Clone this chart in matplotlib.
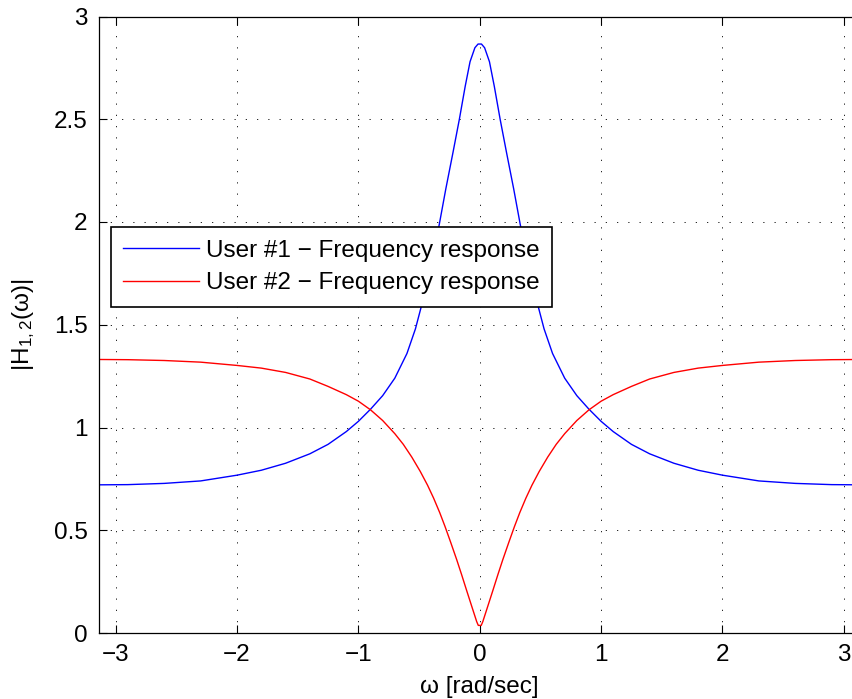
import matplotlib
matplotlib.use("Agg")
import matplotlib.pyplot as plt
import numpy as np

plt.rcParams['font.family'] = ['Liberation Sans', 'DejaVu Sans']
plt.rcParams['mathtext.fontset'] = 'custom'
plt.rcParams['mathtext.rm'] = 'Liberation Sans'
plt.rcParams['mathtext.it'] = 'Liberation Sans'

# Frequency samples (rad/sec) (left half, mirrored to right)
w_user1_left = [-3.1416, -2.9, -2.6, -2.3, -2.0, -1.8, -1.6, -1.4, -1.25, -1.1,
                -1.0, -0.9, -0.8, -0.7, -0.6, -0.53, -0.45, -0.4, -0.333, -0.28,
                -0.22, -0.168, -0.12, -0.08, -0.04, -0.014]
h_user1_left = [0.721, 0.722, 0.728, 0.740, 0.768, 0.792, 0.826, 0.872, 0.918, 0.980,
                1.030, 1.089, 1.155, 1.240, 1.360, 1.480, 1.660, 1.790, 1.990, 2.160,
                2.340, 2.500, 2.660, 2.780, 2.848, 2.866]

w_user2_left = [-3.1416, -2.9, -2.6, -2.3, -2.0, -1.8, -1.6, -1.4, -1.25, -1.1,
                -1.0, -0.9, -0.8, -0.7, -0.63, -0.56, -0.49, -0.43, -0.38, -0.33,
                -0.286, -0.24, -0.19, -0.15, -0.107, -0.065, -0.025, -0.012]
h_user2_left = [1.331, 1.330, 1.326, 1.318, 1.302, 1.289, 1.268, 1.236, 1.200, 1.160,
                1.128, 1.086, 1.034, 0.970, 0.918, 0.856, 0.786, 0.719, 0.656, 0.586,
                0.518, 0.442, 0.357, 0.285, 0.205, 0.128, 0.055, 0.037]

w1 = w_user1_left + [-v for v in reversed(w_user1_left)]
h1 = h_user1_left + list(reversed(h_user1_left))
w2 = w_user2_left + [-v for v in reversed(w_user2_left)]
h2 = h_user2_left + list(reversed(h_user2_left))

x_ticks = [-3, -2, -1, 0, 1, 2, 3]
y_ticks = [0, 0.5, 1, 1.5, 2, 2.5, 3]
y_tick_labels = ['0', '0.5', '1', '1.5', '2', '2.5', '3']
legend_labels = ['User #1 \u2212 Frequency response', 'User #2 \u2212 Frequency response']

W, H = 852, 699
fig = plt.figure(figsize=(W / 100, H / 100), dpi=100)
left, right, top, bottom = 98.5, 861.0, 16.5, 633.0
ax = fig.add_axes([left / W, (H - bottom) / H, (right - left) / W, (bottom - top) / H])

ax.plot(w1, h1, color=(0, 0, 1), lw=1.0, label=legend_labels[0])
ax.plot(w2, h2, color=(1, 0, 0), lw=1.0, label=legend_labels[1])

ax.set_xlim(-np.pi, np.pi)
ax.set_ylim(0, 3)
ax.set_xticks(x_ticks)
ax.set_yticks(y_ticks)
ax.set_yticklabels(y_tick_labels)
ax.tick_params(direction='in', length=6, width=0.8, top=True, right=True,
               labelsize=17.5, pad=8)
for s in ax.spines.values():
    s.set_linewidth(0.9)
ax.grid(True, color='black', linestyle=(0, (1.5, 12)), linewidth=0.6)

ax.set_xlabel('\u03c9 [rad/sec]', fontsize=17.5, labelpad=7)
ax.set_ylabel('|H$_{1,2}$(\u03c9)|', fontsize=17.5, labelpad=12)

leg = ax.legend(loc='upper left', bbox_to_anchor=(0.0164, 0.658), borderaxespad=0,
                fontsize=17.5, fancybox=False, framealpha=1, edgecolor='black',
                handlelength=3.1, handletextpad=0.32, labelspacing=0.45,
                borderpad=0.5)
leg.get_frame().set_linewidth(1.2)

fig.savefig('out.png', dpi=100)
